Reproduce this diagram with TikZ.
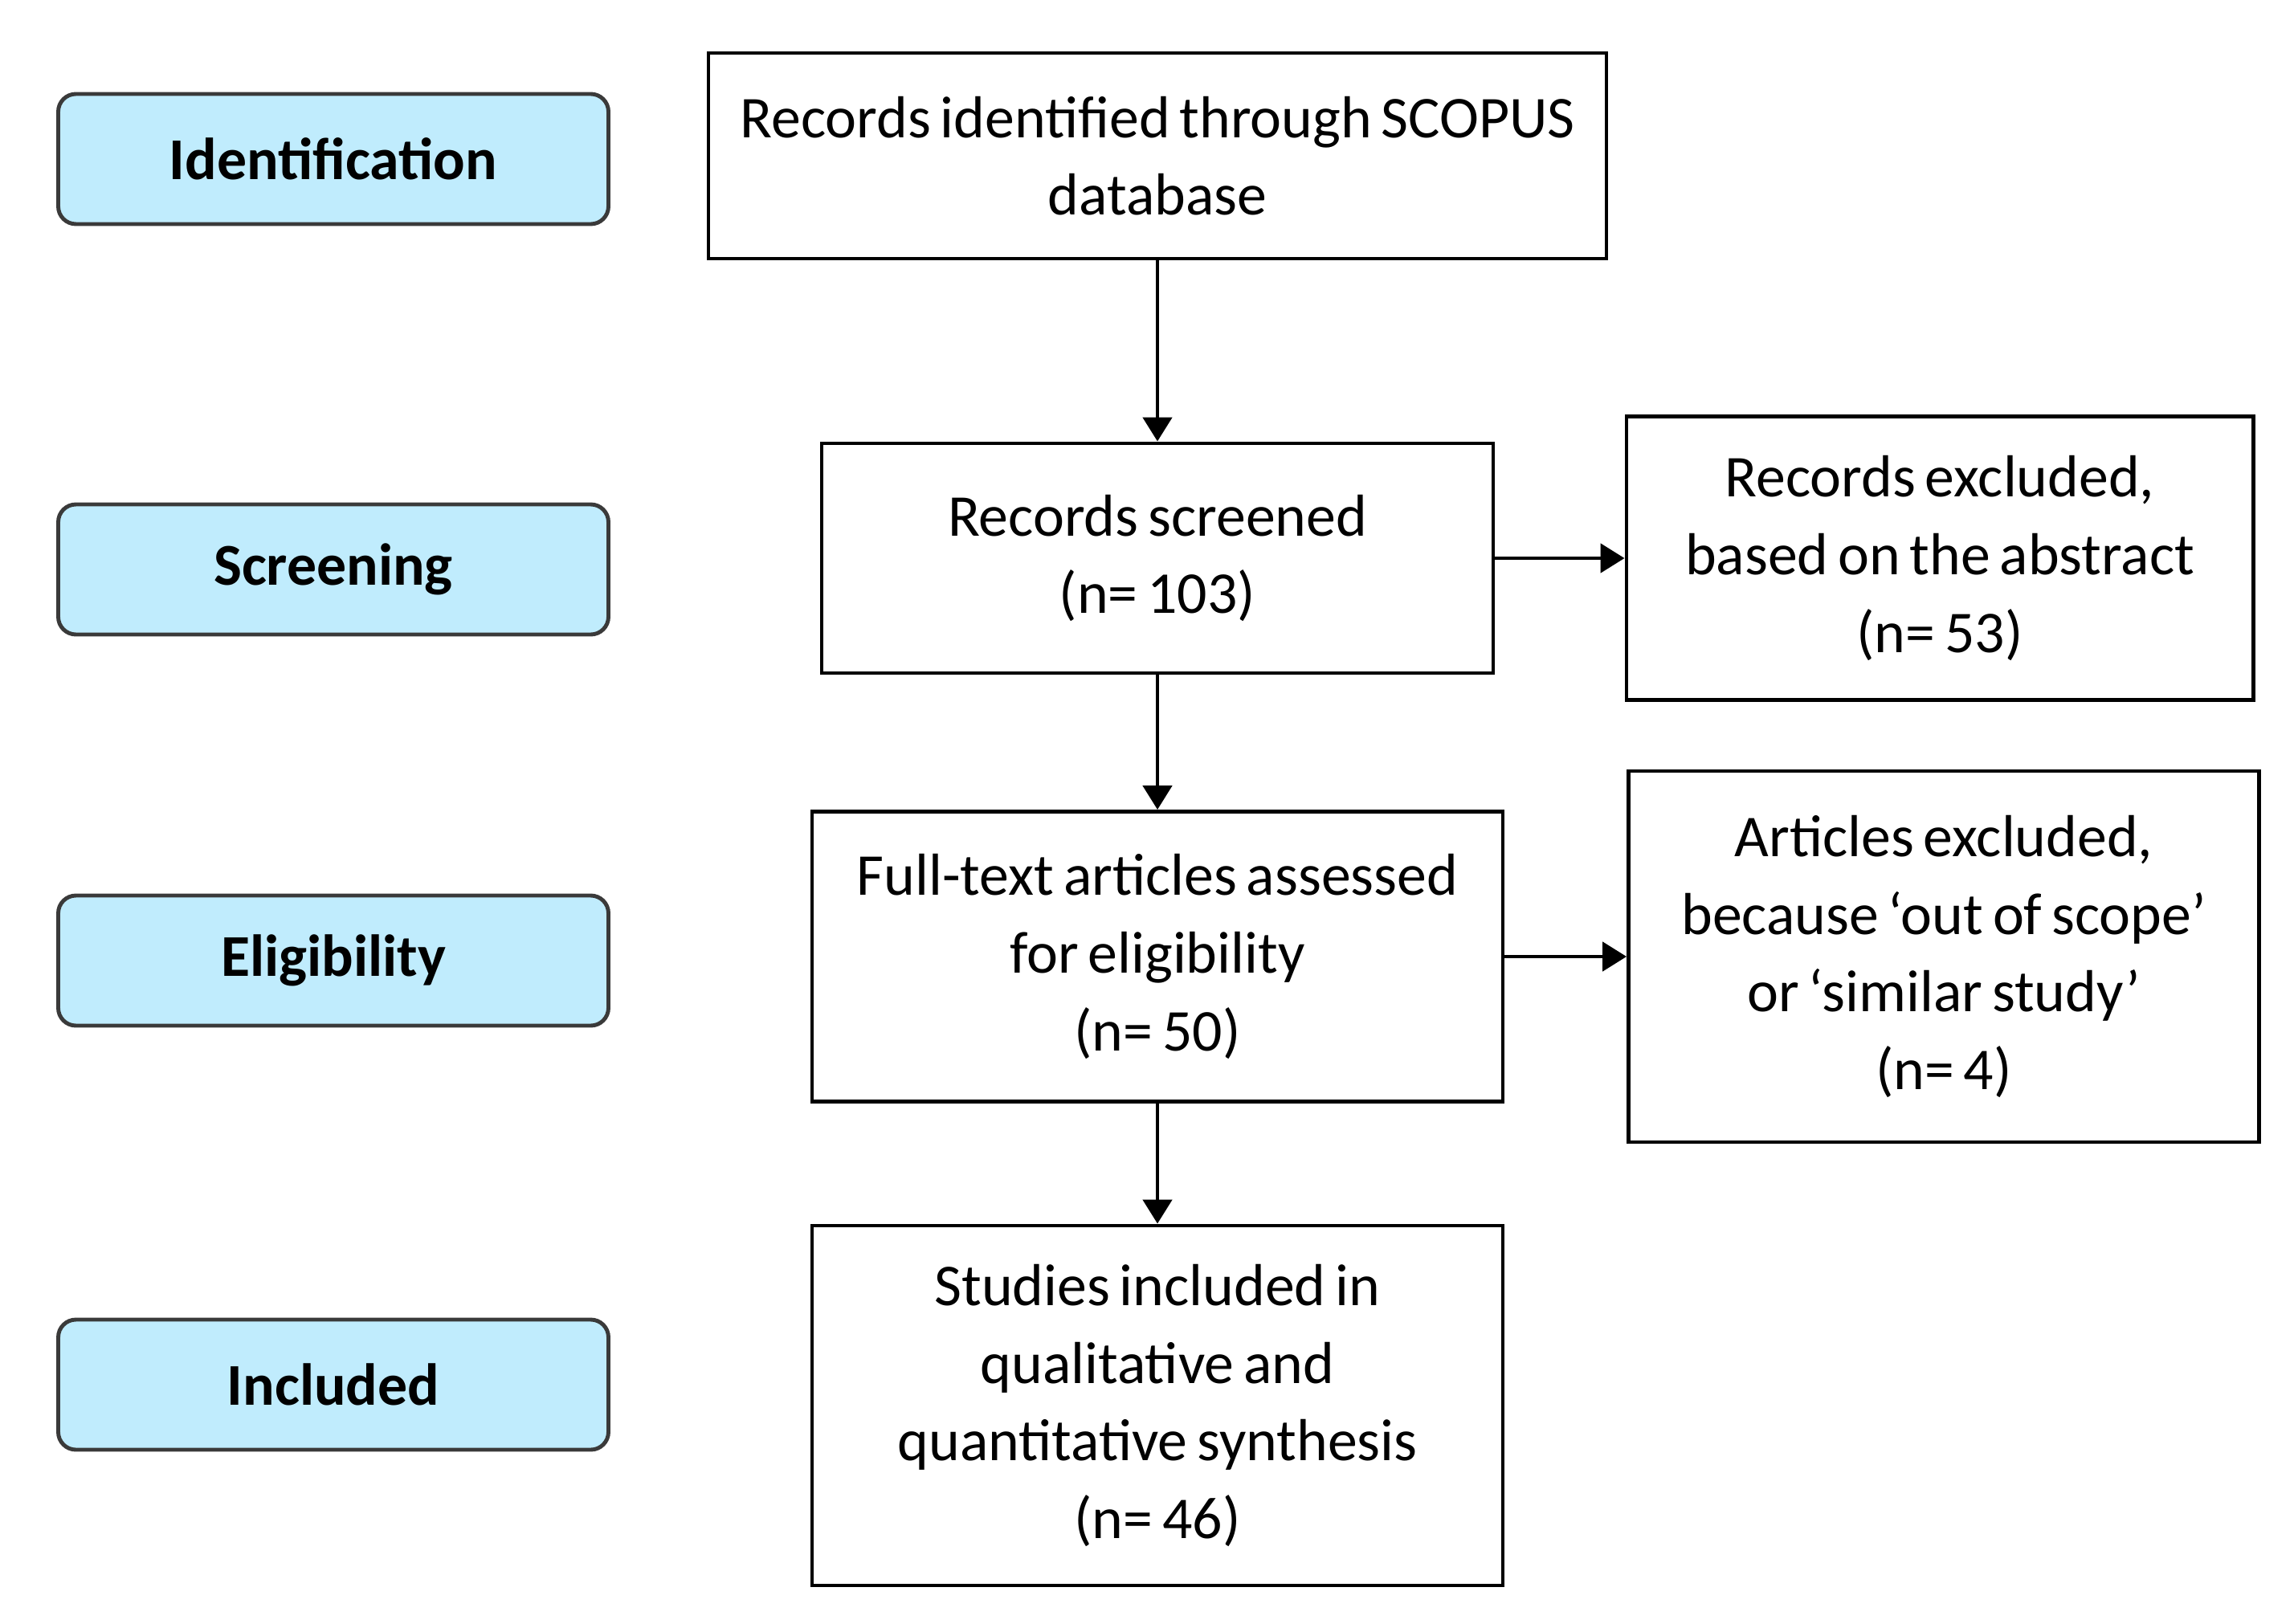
\documentclass[tikz,border=0pt]{standalone}
\usepackage{fontspec}
\setmainfont{Carlito}
\usepackage{xcolor}
\usetikzlibrary{positioning, arrows.meta}

\definecolor{stagefill}{HTML}{C0ECFD}
\definecolor{stageline}{HTML}{3A3A3A}
\newcommand\boxfont{\fontsize{21}{27.5}\selectfont\spaceskip=0.16em\relax}

\begin{document}
\begin{tikzpicture}[node distance=5cm,on grid,line width=1.4pt,
    box/.style={draw,rectangle,align=center,inner sep=2pt,font=\boxfont},
    stage/.style={draw=stageline,fill=stagefill,rounded corners=0.22cm,
        minimum width=6.85cm,minimum height=1.62cm,
        font=\fontsize{21}{26}\selectfont\bfseries},
    arr/.style={-{Triangle[length=0.3cm,width=0.36cm]}}]
       \useasboundingbox (0,0) rectangle (28.56,-20.21);

       % main column
       \node[box,minimum width=11.18cm,minimum height=2.56cm] (ident) at (14.41,-1.94)
            {Records identified through SCOPUS\\database};
       \node[box,minimum width=8.36cm,minimum height=2.86cm] (screen) [below=5.01cm of ident]
            {Records screened\\(n= 103)};
       \node[box,minimum width=8.6cm,minimum height=3.61cm] (elig) [below=4.96cm of screen]
            {Full-text articles assessed\\for eligibility\\(n= 50)};
       \node[box,minimum width=8.6cm,minimum height=4.48cm] (incl) [below=5.59cm of elig]
            {Studies included in\\qualitative and\\quantitative synthesis\\(n= 46)};

       % excluded
       \node[box,minimum width=7.8cm,minimum height=3.53cm] (excl1) [right=9.74cm of screen]
            {Records excluded,\\based on the abstract\\(n= 53)};
       \node[box,minimum width=7.85cm,minimum height=4.62cm] (excl2) [right=9.79cm of elig]
            {Articles excluded,\\because `out of scope'\\or `similar study'\\(n= 4)};

       % stages
       \node[stage] (sIdent) at (4.15,-1.98) {Identification};
       \node[stage] (sScreen) at (4.15,-7.09) {Screening};
       \node[stage] (sElig) at (4.15,-11.96) {Eligibility};
       \node[stage] (sIncl) at (4.15,-17.24) {Included};

       \draw[arr] (ident) -- (screen);
       \draw[arr] (screen) -- (elig);
       \draw[arr] (elig) -- (incl);
       \draw[arr] (screen) -- (excl1);
       \draw[arr] (elig) -- (excl2);
\end{tikzpicture}
\end{document}
